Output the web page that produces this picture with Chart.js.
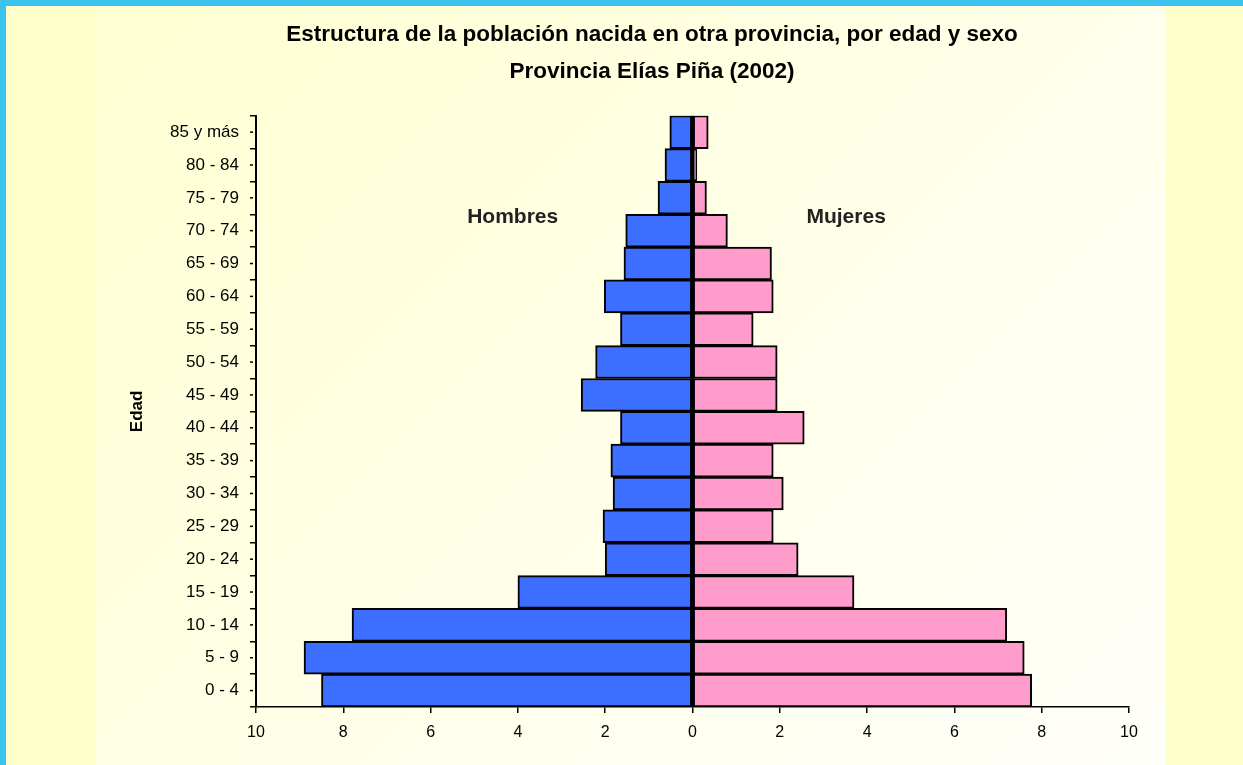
<!DOCTYPE html>
<html>
<head>
<meta charset="utf-8">
<script src="https://cdn.jsdelivr.net/npm/chart.js@4/dist/chart.umd.min.js"></script>
<style>
    html, body { margin: 0; padding: 0; }
    body {
        width: 1243px; height: 765px; overflow: hidden; position: relative;
        background: #ffffcc;
    }
    #topBar { position: absolute; left: 0; top: 0; width: 1243px; height: 6px; background: #3cc3ee; }
    #leftBar { position: absolute; left: 0; top: 0; width: 6px; height: 765px; background: #3cc3ee; }
    #panel {
        position: absolute; left: 95px; top: 6px; width: 1071px; height: 759px;
        background: linear-gradient(135deg, #ffffd2 0%, #fffff0 70%, #fffffa 100%);
    }
    #wrap { position: absolute; left: 61px; top: 0; width: 1182px; height: 765px; }
</style>
</head>
<body>
<div id="topBar"></div>
<div id="leftBar"></div>
<div id="panel"></div>
<div id="wrap"><canvas id="pyramidChart" width="1182" height="765"></canvas></div>
<script>
// data, bottom age group first
const ageGroups = ['0 - 4', '5 - 9', '10 - 14', '15 - 19', '20 - 24', '25 - 29', '30 - 34', '35 - 39', '40 - 44',
    '45 - 49', '50 - 54', '55 - 59', '60 - 64', '65 - 69', '70 - 74', '75 - 79', '80 - 84', '85 y más'];
const hombres = [8.5, 8.9, 7.8, 4.0, 2.0, 2.05, 1.82, 1.87, 1.65, 2.55, 2.22, 1.65, 2.02, 1.57, 1.53, 0.79, 0.63, 0.52];
const mujeres = [7.77, 7.6, 7.2, 3.7, 2.42, 1.85, 2.08, 1.85, 2.56, 1.94, 1.94, 1.39, 1.85, 1.81, 0.8, 0.32, 0.1, 0.36];
const xTicks = [-10, -8, -6, -4, -2, 0, 2, 4, 6, 8, 10];
const titleLines = ['Estructura de la población nacida en otra provincia, por edad y sexo', 'Provincia Elías Piña (2002)'];

const plain = '"Liberation Sans", Arial, sans-serif';

// zero line, side labels and the small centre marks on the age axis
const extrasPlugin = {
    id: 'extras',
    afterDatasetsDraw(chart) {
        const ctx = chart.ctx;
        const x0 = chart.scales.x.getPixelForValue(0);
        ctx.save();
        ctx.strokeStyle = '#000';
        ctx.lineWidth = 2;
        ctx.beginPath();
        ctx.moveTo(x0, chart.chartArea.top);
        ctx.lineTo(x0, chart.chartArea.bottom);
        ctx.stroke();
        ctx.restore();
    },
    afterDraw(chart) {
        const ctx = chart.ctx;
        const x = chart.scales.x;
        const y = chart.scales.y;
        ctx.save();
        ctx.fillStyle = '#222';
        ctx.font = 'bold 21px ' + plain;
        ctx.textAlign = 'center';
        ctx.textBaseline = 'middle';
        const labelRow = y.getPixelForValue(14.42);
        ctx.fillText('Hombres', x.getPixelForValue(-4.12), labelRow);
        ctx.fillText('Mujeres', x.getPixelForValue(3.52), labelRow);

        ctx.strokeStyle = '#000';
        ctx.lineWidth = 1.5;
        ageGroups.forEach((g, i) => {
            const py = y.getPixelForValue(i);
            ctx.beginPath();
            ctx.moveTo(y.right - 6, py);
            ctx.lineTo(y.right - 3, py);
            ctx.stroke();
        });
        ctx.restore();
    }
};

const ctx = document.getElementById('pyramidChart').getContext('2d');
const pyramidChart = new Chart(ctx, {
    type: 'bar',
    data: {
        labels: ageGroups,
        datasets: [{
            label: 'Hombres',
            data: hombres.map(v => -v),
            backgroundColor: '#3c6eff',
            borderColor: '#000',
            borderWidth: 2,
            borderSkipped: false
        }, {
            label: 'Mujeres',
            data: mujeres,
            backgroundColor: '#ff9ccc',
            borderColor: '#000',
            borderWidth: 2,
            borderSkipped: false
        }]
    },
    options: {
        indexAxis: 'y',
        responsive: false,
        animation: false,
        barPercentage: 1,
        categoryPercentage: 1,
        layout: { padding: 0 },
        plugins: {
            legend: { display: false },
            tooltip: { enabled: false },
            title: {
                display: true,
                text: titleLines,
                color: '#000',
                font: { family: plain, size: 22.5, weight: 'bold', lineHeight: 1.66 },
                padding: { top: 16, bottom: 25 }
            }
        },
        scales: {
            x: {
                stacked: true,
                min: -10,
                max: 10,
                afterBuildTicks: axis => { axis.ticks = xTicks.map(v => ({ value: v })); },
                afterFit: axis => { axis.height = 58; },
                ticks: {
                    color: '#000',
                    font: { family: plain, size: 16 },
                    padding: 10,
                    maxRotation: 0,
                    callback: v => Math.abs(v)
                },
                grid: { drawOnChartArea: false, color: '#000', tickLength: 6, lineWidth: 1.5 },
                border: { display: true, color: '#000', width: 1.5 }
            },
            y: {
                stacked: true,
                reverse: true,
                afterFit: axis => { axis.width = 195; },
                title: {
                    display: true,
                    text: 'Edad',
                    color: '#000',
                    font: { family: plain, size: 17, weight: 'bold' },
                    padding: { top: 66, bottom: 4 }
                },
                ticks: {
                    color: '#000',
                    font: { family: plain, size: 17 },
                    padding: 11,
                    autoSkip: false
                },
                grid: { drawOnChartArea: false, color: '#000', tickLength: 6, lineWidth: 1.5 },
                border: { display: true, color: '#000', width: 2 }
            },
            // empty right-hand strip so the title centres like the original
            yRight: {
                type: 'category',
                position: 'right',
                labels: ageGroups,
                afterFit: axis => { axis.width = 114; },
                ticks: { display: false },
                grid: { display: false },
                border: { display: false }
            }
        }
    },
    plugins: [extrasPlugin]
});
</script>
</body>
</html>
